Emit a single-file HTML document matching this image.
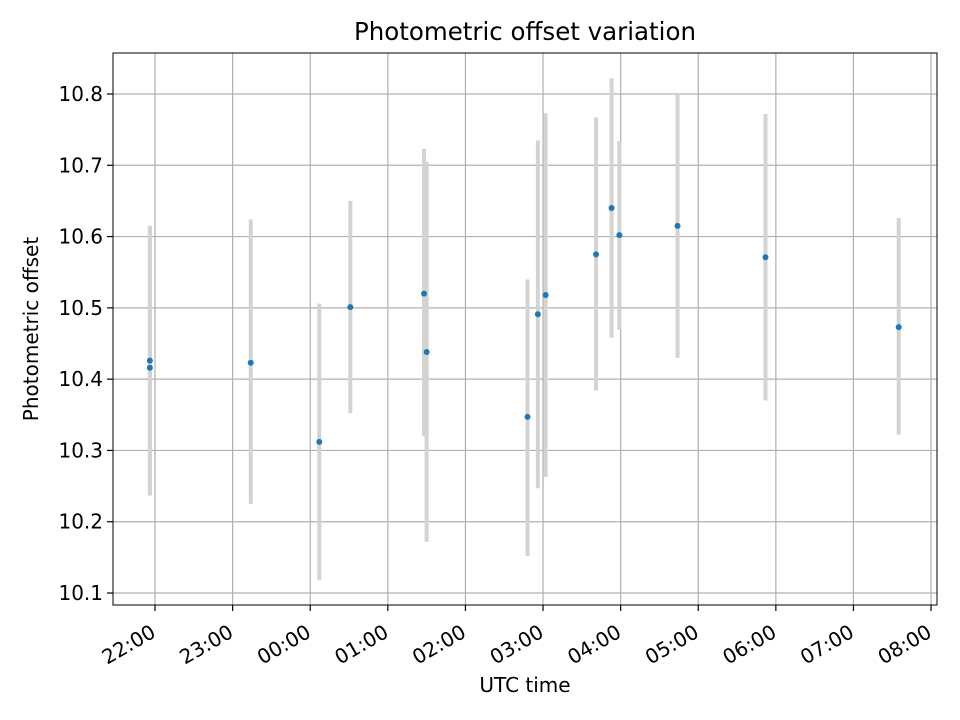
<!DOCTYPE html>
<html><head><meta charset="utf-8"><style>
body{margin:0;background:#fff}
svg{display:block;font-family:"DejaVu Sans","Liberation Sans",sans-serif}
</style></head><body>
<svg id="chart" width="960" height="720" viewBox="0 0 960 720">
<rect x="0" y="0" width="960" height="720" fill="#fff"/>
<g id="grid"></g>
<g id="bars"></g>
<g id="pts"></g>
<rect x="113" y="53" width="824" height="552" fill="none" stroke="#000" stroke-width="1"/>
<g id="axes"></g>
<text x="525" y="40" text-anchor="middle" font-size="24.5">Photometric offset variation</text>
<text x="525" y="692" text-anchor="middle" font-size="20">UTC time</text>
<text transform="translate(38,329) rotate(-90)" text-anchor="middle" font-size="20">Photometric offset</text>
</svg>
<script>
// minutes since 22:00 UTC
const times = [-4, -4, 74, 127, 151, 208, 210, 288, 296, 302, 341, 353, 359, 404, 472, 575];
const offsets = [10.426, 10.416, 10.423, 10.312, 10.501, 10.520, 10.438, 10.347, 10.491, 10.518, 10.575, 10.640, 10.602, 10.615, 10.571, 10.473];
const errLow = [10.237, 10.237, 10.225, 10.118, 10.352, 10.320, 10.172, 10.152, 10.247, 10.263, 10.384, 10.458, 10.469, 10.430, 10.370, 10.322];
const errHigh = [10.615, 10.615, 10.624, 10.506, 10.650, 10.723, 10.705, 10.540, 10.735, 10.773, 10.767, 10.822, 10.734, 10.800, 10.772, 10.626];
const xTickLabels = ["22:00","23:00","00:00","01:00","02:00","03:00","04:00","05:00","06:00","07:00","08:00"];
const yTicks = [10.1, 10.2, 10.3, 10.4, 10.5, 10.6, 10.7, 10.8];

const L=113,R=937,T=53,B=605;
const xMin=-32.5, xMax=604.6, yMin=10.0832, yMax=10.8575;
function xs(v){return L+(v-xMin)/(xMax-xMin)*(R-L);}
function ys(v){return B-(v-yMin)/(yMax-yMin)*(B-T);}
const NS="http://www.w3.org/2000/svg";
function mk(tag,attrs,parent){const e=document.createElementNS(NS,tag);for(const k in attrs)e.setAttribute(k,attrs[k]);parent.appendChild(e);return e;}
const grid=document.getElementById('grid'),axes=document.getElementById('axes'),bars=document.getElementById('bars'),pts=document.getElementById('pts');

xTickLabels.forEach((lab,i)=>{
  const x=xs(i*60);
  const g=mk('line',{x1:x,x2:x,y1:T,y2:B,stroke:'#b0b0b0','stroke-width':1.2},grid);
  
  
  const t=mk('line',{x1:x,x2:x,y1:B,y2:B+6,stroke:'#000','stroke-width':1.2},axes);
  
  
  const tx=mk('text',{transform:`translate(${x+2},${B+31}) rotate(-30)`,'text-anchor':'end','font-size':20},axes);
  tx.textContent=lab;
  
  
});
yTicks.forEach(v=>{
  const y=ys(v);
  const g=mk('line',{x1:L,x2:R,y1:y,y2:y,stroke:'#b0b0b0','stroke-width':1.2},grid);
  
  
  const t=mk('line',{x1:L-6,x2:L,y1:y,y2:y,stroke:'#000','stroke-width':1.2},axes);
  
  
  const tx=mk('text',{x:L-10,y:y+7,'text-anchor':'end','font-size':20},axes);
  tx.textContent=v.toFixed(1);
  
  
});
times.forEach((tm,i)=>{
  const x=xs(tm);
  const b=mk('line',{x1:x,x2:x,y1:ys(errLow[i]),y2:ys(errHigh[i]),stroke:'#d3d3d3','stroke-width':4},bars);
  
  
});
times.forEach((tm,i)=>{
  const c=mk('circle',{cx:xs(tm),cy:ys(offsets[i]),r:3,fill:'#1f77b4'},pts);
  
  
});
</script>
</body></html>
